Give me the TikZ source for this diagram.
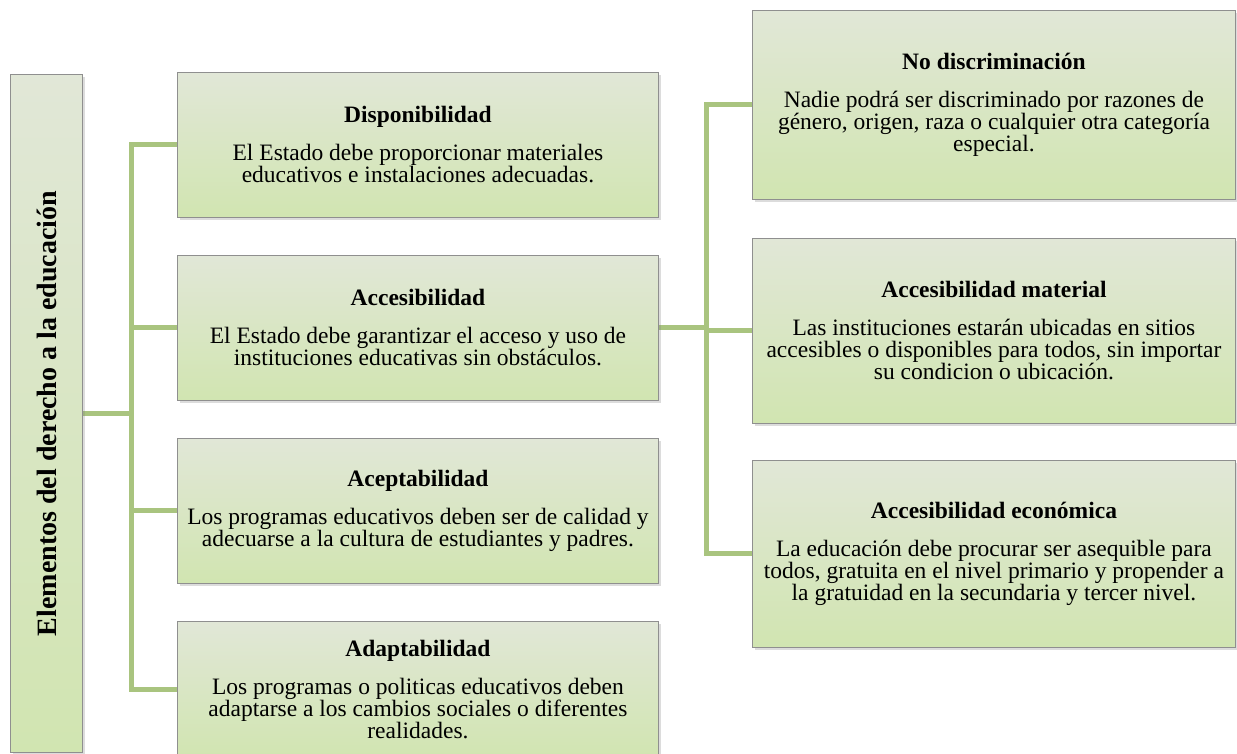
\documentclass[tikz,border=0pt]{standalone}
\usepackage{fontspec}
\setmainfont{Liberation Serif}
\usepackage{tikz}
\usetikzlibrary{positioning,shadows,backgrounds}
\definecolor{cLink}{HTML}{A9C47F}
\definecolor{cEdge}{HTML}{8F8F8F}
\definecolor{cTop}{HTML}{E1E7D7}
\definecolor{cBot}{HTML}{D1E5B1}
\tikzset{
  box/.style={draw=cEdge, line width=0.9pt, top color=cTop, bottom color=cBot,
              drop shadow={shadow xshift=2.5pt, shadow yshift=-3pt, opacity=0.28},
              align=center, inner sep=3pt,
              font={\fontsize{23.5}{22}\selectfont\lineskiplimit=-20pt}},
  mid/.style={box, minimum width=481pt, minimum height=145pt},
  side/.style={box, minimum width=483pt},
  link/.style={draw=cLink, line width=5pt},
}

\begin{document}
\begin{tikzpicture}[x=1pt, y=-1pt]
  \useasboundingbox (0,0) rectangle (1237,753);
  \clip (0,0) rectangle (1237,753);

  % root
  \node[box, minimum width=72pt, minimum height=678pt, anchor=north west] (root) at (10,74)
    {\rotatebox{90}{\fontsize{28}{30}\selectfont\textbf{Elementos del derecho a la educación}}};

  % elements
  \node[mid, anchor=north west] (disp) at (177,72)
    {\textbf{Disponibilidad}\\[16pt]El Estado debe proporcionar materiales\\educativos e instalaciones adecuadas.};
  \node[mid, below right=37pt and 0pt of disp.south west] (acce)
    {\textbf{Accesibilidad}\\[16pt]El Estado debe garantizar el acceso y uso de\\instituciones educativas sin obstáculos.};
  \node[mid, below right=37pt and 0pt of acce.south west] (acep)
    {\textbf{Aceptabilidad}\\[16pt]Los programas educativos deben ser de calidad y\\adecuarse a la cultura de estudiantes y padres.};
  \node[mid, minimum height=136pt, below right=37pt and 0pt of acep.south west] (adap)
    {\textbf{Adaptabilidad}\\[16pt]Los programas o politicas educativos deben\\adaptarse a los cambios sociales o diferentes\\realidades.};

  % accesibilidad
  \node[side, minimum height=189pt, anchor=north west] (nodis) at (752,10)
    {\textbf{No discriminación}\\[16pt]Nadie podrá ser discriminado por razones de\\género, origen, raza o cualquier otra categoría\\especial.};
  \node[side, minimum height=185pt, below right=38pt and 0pt of nodis.south west] (amat)
    {\textbf{Accesibilidad material}\\[16pt]Las instituciones estarán ubicadas en sitios\\accesibles o disponibles para todos, sin importar\\su condicion o ubicación.};
  \node[side, minimum height=187pt, below right=36pt and 0pt of amat.south west] (aeco)
    {\textbf{Accesibilidad económica}\\[16pt]La educación debe procurar ser asequible para\\todos, gratuita en el nivel primario y propender a\\la gratuidad en la secundaria y tercer nivel.};

  \begin{scope}[on background layer]
    \draw[link] (root.east) -- ++(49pt,0) coordinate (trunk);
    \foreach \n in {disp,acce,acep,adap}
      \draw[link] (trunk) |- (\n.west);
    \draw[link] (acce.east) -- ++(48pt,0) coordinate (branch);
    \foreach \n in {nodis,amat,aeco}
      \draw[link] (branch) |- (\n.west);
  \end{scope}
\end{tikzpicture}
\end{document}
